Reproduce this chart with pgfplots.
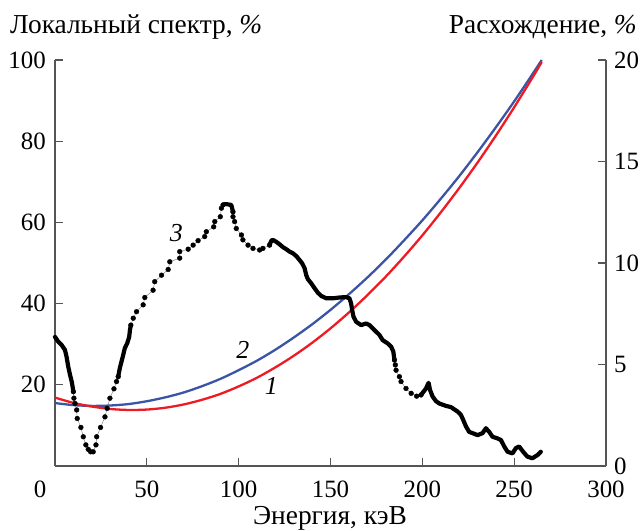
\documentclass[border=0pt]{standalone}
\usepackage{fontspec}
\setmainfont{Liberation Serif}
\usepackage{pgfplots}
\pgfplotsset{compat=1.18}
\definecolor{cred}{RGB}{237,28,36}
\definecolor{cblue}{RGB}{59,84,164}
\definecolor{axgray}{RGB}{85,85,85}
\begin{document}
\begin{tikzpicture}[x=1bp,y=1bp]
\useasboundingbox (-55,-65) rectangle (585,466);
\pgfplotsset{common/.style={width=551bp,height=406bp,scale only axis,at={(0,0)},anchor=south west,
  xmin=0,xmax=300, tick align=inside, major tick length=8bp,
  axis line style={draw=axgray,line width=1.2bp},
  every tick/.style={draw=axgray,line width=1.2bp},
  tick label style={font=\fontsize{25}{30}\selectfont},
  /pgf/number format/assume math mode=true, clip=false}}
% right axis: discrepancy
\begin{axis}[common, ymin=0, ymax=20, axis x line=none, axis y line*=right,
  ytick={0,5,10,15,20}, yticklabel style={anchor=west, inner sep=0pt, xshift=8bp}]
\addplot[cblue, line width=2.3bp, smooth] coordinates {
(0,3.10) (10,3.00) (20,2.96) (30,2.98) (40,3.05) (50,3.19) (60,3.38) (70,3.62) (80,3.93)
(90,4.29) (100,4.72) (110,5.19) (120,5.73) (130,6.33) (140,6.98) (150,7.69) (160,8.46)
(170,9.28) (180,10.16) (190,11.11) (200,12.10) (210,13.16) (220,14.27) (230,15.45)
(240,16.68) (250,17.96) (260,19.31) (265,20.00)};
\addplot[cred, line width=2.3bp, smooth] coordinates {
(0,3.37) (10,3.11) (20,2.93) (30,2.81) (40,2.76) (50,2.78) (60,2.87) (70,3.03) (80,3.26)
(90,3.55) (100,3.92) (110,4.35) (120,4.86) (130,5.43) (140,6.07) (150,6.78) (160,7.56)
(170,8.41) (180,9.32) (190,10.31) (200,11.36) (210,12.49) (220,13.68) (230,14.94)
(240,16.27) (250,17.67) (260,19.14) (265,19.90)};
\end{axis}
% left axis: local spectrum
\begin{axis}[common, ymin=0, ymax=100, axis x line*=bottom, axis y line*=left,
  xtick={0,50,100,150,200,250,300}, xticklabels={{},50,100,150,200,250,300},
  ytick={20,40,60,80,100},
  xticklabel style={anchor=base, inner sep=0pt, yshift=-32bp},
  yticklabel style={anchor=east, inner sep=0pt, xshift=-9bp}]
\pgfplotsset{dense/.style={black, line width=4.2bp, line join=round, line cap=round},
  sparse/.style={black!55, line width=0.4bp, mark=*, mark size=2.4bp, mark options={black, fill=black, draw=black}}}
\addplot[dense] coordinates {(0,31.8) (1.8,30.6) (3.6,29.8) (5.4,28.6) (6.3,26.9) (7.2,24.5) (8.2,22.4) (9.1,20.8) (9.6,19.5) (10,18.3)};
\addplot[sparse] coordinates {(10,18.3) (10.3,16.7) (10.9,15.4) (11.8,13.8) (12.1,11.7) (14.1,9.5) (15.4,7.2) (16.8,5.2) (18.1,4.1) (19.4,3.5) (20.8,3.5) (22.3,5.2) (22.7,7.2) (24.8,9.5) (27.2,12.1) (28.4,14.2) (29.9,16.7) (32.1,19.0) (33.5,20.8) (34.4,22.0)};
\addplot[dense] coordinates {(34.4,22.0) (35.3,24.1) (36.2,25.7) (37.1,27.3) (38.0,29.0) (39.3,30.2) (40.4,31.8) (40.8,33.5) (41.3,34.7)};
\addplot[sparse] coordinates {(41.3,34.7) (42.6,36.4) (44.4,38.0) (48.0,39.7) (48.9,41.5) (53.4,43.3) (54.3,45.4) (58.0,47.0) (61.6,48.4) (62.5,50.3) (67.9,51.2) (67.9,52.8) (72.5,53.4) (75.2,54.4) (77.9,55.5) (81.5,56.5) (82.4,57.7) (86.4,58.9) (87.0,60.2) (90.0,61.4) (90.6,63.5) (91.5,64.3)};
\addplot[dense] coordinates {(91.5,64.3) (92.4,64.5) (93.5,64.5) (94.5,64.4) (96.0,64.3) (96.9,62.6)};
\addplot[sparse] coordinates {(96.9,62.6) (96.9,61.4) (97.8,60.2) (98.7,58.5) (101.5,56.9) (102.3,55.7) (105.1,54.4) (107.8,53.6) (111.4,53.2) (113.2,53.6) (116.8,54.4)};
\addplot[dense] coordinates {(116.8,54.4) (117.8,55.5) (118.6,55.7) (120.5,55.2) (122.3,54.6) (124.1,53.9) (125.9,53.4) (127.7,52.8) (129.5,52.4) (131.4,51.7) (133.2,50.7) (134.6,49.9) (135.9,48.7) (136.8,47.0) (137.7,46.0) (139.5,45.0) (141.3,43.8) (143.1,42.7) (144.9,41.9) (147.7,41.3) (151.3,41.3) (154.9,41.5) (158.5,41.6) (160.3,41.3) (161.2,40.1) (161.8,38.4) (162.5,36.8) (164.0,35.5) (166.7,34.7) (169.4,35.1) (171.2,34.7) (173.9,33.5) (176.6,32.3) (178.4,31.0) (181.1,30.2) (183.0,29.4) (184.2,28.2) (184.8,26.1)};
\addplot[sparse] coordinates {(184.8,26.1) (185.3,24.9) (185.7,23.6) (187.5,22.0) (188.4,20.8) (191.1,19.1) (193.9,17.9) (196.9,17.2) (199.3,17.5)};
\addplot[dense] coordinates {(199.3,17.5) (202.0,19.1) (203.4,20.5) (204.2,18.7) (205.6,17.1) (207.4,16.0) (209.2,15.4) (212.9,14.8) (215.6,14.5) (219.2,13.4) (221.0,12.6) (222.3,11.3) (223.8,9.7) (225.5,8.4) (227.3,8.1) (230.1,7.6) (232.8,8.1) (234.6,9.3) (236.4,8.4) (238.2,7.2) (240.9,6.8) (242.8,6.4) (244.6,4.8) (246.4,3.5) (249.1,3.1) (250.9,4.4) (252.7,4.8) (254.9,3.5) (257.2,2.3) (259.9,1.9) (262.7,2.7) (264.5,3.5)};
\node[font=\fontsize{26}{30}\selectfont\itshape] at (axis cs:66.1,57.3) {3};
\node[font=\fontsize{26}{30}\selectfont\itshape] at (axis cs:102.3,28.6) {2};
\node[font=\fontsize{26}{30}\selectfont\itshape] at (axis cs:117.8,19.6) {1};
\node[font=\fontsize{25}{30}\selectfont, anchor=base, inner sep=0pt] at (axis cs:0,0) [xshift=-15bp, yshift=-32bp] {0};
\end{axis}
\node[anchor=base west, inner sep=0pt, font=\fontsize{27.5}{32}\selectfont] at (-45,432) {Локальный спектр, \textit{\%}};
\node[anchor=base east, inner sep=0pt, font=\fontsize{27.5}{32}\selectfont] at (582,432) {Расхождение, \textit{\%}};
\node[anchor=base, inner sep=0pt, font=\fontsize{27.5}{32}\selectfont] at (275,-59) {Энергия, кэВ};
\end{tikzpicture}
\end{document}
